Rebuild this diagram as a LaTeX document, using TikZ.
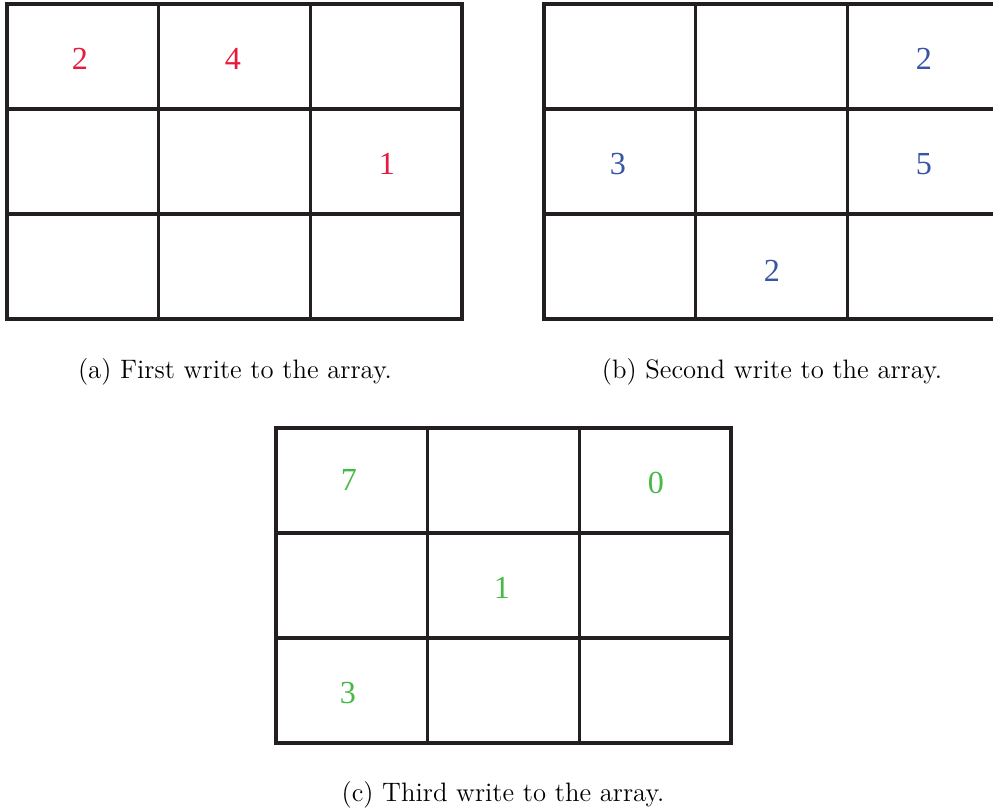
\documentclass[tikz,border=0pt]{standalone}
\usepackage{fontspec}
\newfontfamily\digitfont{Liberation Serif}
\usepackage{xcolor}
\definecolor{writered}{RGB}{232,25,60}
\definecolor{writeblue}{RGB}{55,85,165}
\definecolor{writegreen}{RGB}{70,185,70}
\definecolor{gridgray}{RGB}{35,31,32}

\begin{document}
\begin{tikzpicture}[
  x=0.42pt, y=-0.42pt,
  cellgrid/.style={draw=gridgray,line width=1.3pt,line cap=rect},
  entry/.style={font=\digitfont\fontsize{13.5}{15}\selectfont,inner sep=0pt},
  caption/.style={font=\fontsize{11.2}{13}\selectfont,inner sep=0pt}
]
  \useasboundingbox (0,0) rectangle (993,812);

  % the three 3x3 arrays
  \foreach \gx/\gy in {7/4, 544/4, 276/428} {
    \draw[cellgrid] (\gx,\gy) rectangle ++(455,315);
    \foreach \k in {1,2} {
      \draw[cellgrid] (\gx+\k*151.67,\gy) -- ++(0,315);
      \draw[cellgrid] (\gx,\gy+\k*105) -- ++(455,0);
    }
  }

  % first write
  \node[entry,writered] (a2) at (80,59) {2};
  \node[entry,writered] (a4) at (233,59) {4};
  \node[entry,writered] (a1) at (387,164) {1};
  % second write
  \node[entry,writeblue] (b2) at (924,59) {2};
  \node[entry,writeblue] (b3) at (618,164) {3};
  \node[entry,writeblue] (b5) at (924,164) {5};
  \node[entry,writeblue] (b2low) at (772,271) {2};
  % third write
  \node[entry,writegreen] (c7) at (349,480) {7};
  \node[entry,writegreen] (c0) at (656,483) {0};
  \node[entry,writegreen] (c1) at (502,588) {1};
  \node[entry,writegreen] (c3) at (348,693) {3};

  \node[caption] (capa) at (235,372) {(a) First write to the array.};
  \node[caption] (capb) at (772,372) {(b) Second write to the array.};
  \node[caption] (capc) at (503,795) {(c) Third write to the array.};
\end{tikzpicture}
\end{document}
